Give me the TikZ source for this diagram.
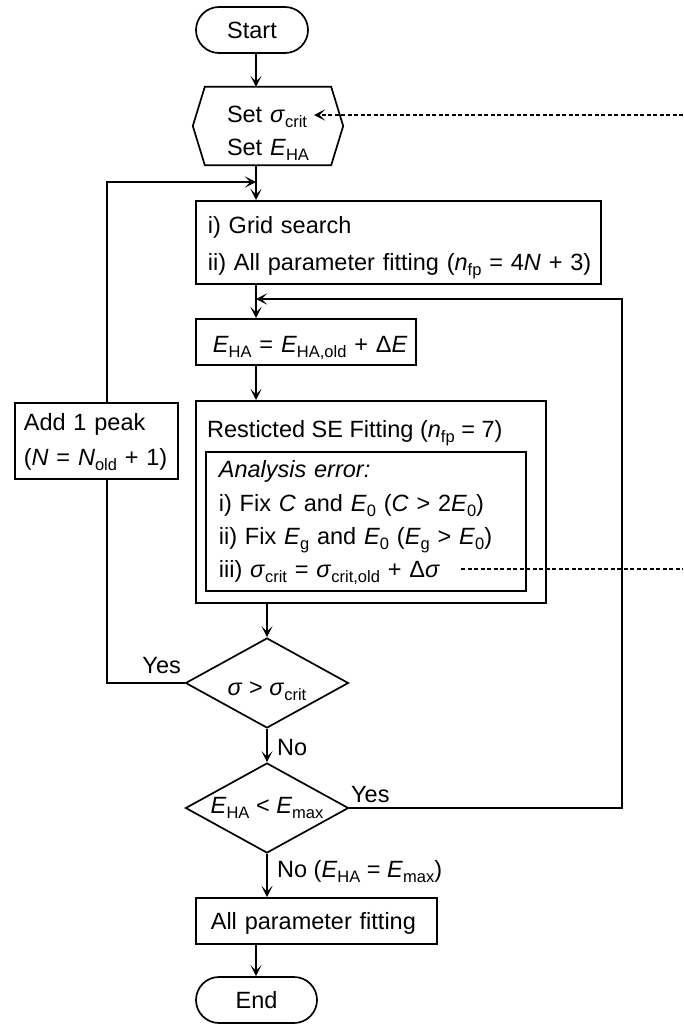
\documentclass[tikz,border=0pt]{standalone}
\usepackage{fontspec}
\setmainfont{Liberation Sans}
\usetikzlibrary{arrows.meta,calc,shapes.geometric}
\newcommand{\sbs}[1]{\raisebox{-5pt}{\fontsize{16.5}{16.5}\selectfont #1}}
\newcommand{\vi}[1]{\textit{#1}}
\newcommand{\lne}[1]{\mbox{#1}}
\newcommand{\topst}[1]{\rule{0pt}{#1}}
\newcommand{\botst}{\rule[-9pt]{0pt}{9pt}}
\newcommand{\fs}[1]{\fontsize{23.5}{#1}\selectfont}
\begin{document}
\begin{tikzpicture}[x=1pt,y=-1pt,
  every node/.style={font=\fs{34}},
  ln/.style={line width=1.7pt},
  tip/.style={-{Stealth[length=11pt,width=11pt,inset=5.5pt]}},
  arr/.style={ln,tip},
  dsh/.style={line width=1.2pt,dash pattern=on 4pt off 2.5pt},
  box/.style={draw,ln,anchor=north west,inner ysep=0pt,align=left},
  term/.style={draw,ln,rounded corners=23pt,minimum height=46pt,inner sep=0pt},
  dia/.style={draw,ln,diamond,aspect=1.8,inner sep=0pt,minimum width=163pt,minimum height=90pt},
  lbl/.style={inner sep=0pt}]
\useasboundingbox (0,0) rectangle (683,1025);
\coordinate (ax1) at (256,0);
\coordinate (ax2) at (267,0);
\coordinate (lx) at (107,0);
\coordinate (rx) at (622,0);

% nodes
\node[term,minimum width=112pt] (start) at (252,30) {Start};
\node[align=left,inner xsep=34pt,inner ysep=0pt,text width=82pt,minimum height=78pt,font=\fs{33}] (set) at (268,126)
  {\lne{\topst{34pt}Set \vi{σ}\sbs{crit}}\\\lne{Set \vi{E}\sbs{HA}\botst}};
\draw[ln] (set.west) -- ([xshift=12pt]set.north west) -- ([xshift=-12pt]set.north east)
  -- (set.east) -- ([xshift=-12pt]set.south east) -- ([xshift=12pt]set.south west) -- cycle;
\node[box,inner xsep=12pt,text width=381pt,minimum height=83pt,font=\fs{36.5}] (grid) at (195,200)
  {\lne{\topst{28.5pt}i) Grid search}\\\lne{ii) All parameter fitting (\vi{n}\sbs{fp} = 4\vi{N} + 3)\botst}};
\node[box,inner xsep=17pt,text width=186pt,minimum height=46pt] (eha) at (195,318)
  {\lne{\topst{31pt}\vi{E}\sbs{HA} = \vi{E}\sbs{HA,old} + Δ\vi{E}\botst}};
\node[box,minimum width=350pt,minimum height=202pt] (restr) at (195,400) {};
\node[lbl,anchor=base west] (rtitle) at (207,437) {Resticted SE Fitting (\vi{n}\sbs{fp} = 7)};
\node[box,inner xsep=13pt,text width=294pt,minimum height=139pt,font=\fs{33.3}] (inner) at (205,451)
  {\lne{\topst{22pt}\vi{Analysis error:}}\\
   \lne{i) Fix \vi{C} and \vi{E}\sbs{0} (\vi{C} > 2\vi{E}\sbs{0})}\\
   \lne{ii) Fix \vi{E}\sbs{g} and \vi{E}\sbs{0} (\vi{E}\sbs{g} > \vi{E}\sbs{0})}\\
   \lne{iii) \vi{σ}\sbs{crit} = \vi{σ}\sbs{crit,old} + Δ\vi{σ}\botst}};
\node[box,inner xsep=9pt,text width=145pt,minimum height=76pt,font=\fs{35}] (peak) at (14,402)
  {\lne{\topst{24pt}Add 1 peak}\\\lne{(\vi{N} = \vi{N}\sbs{old} + 1)\botst}};
\node[dia] (d1) at (267,683) {\raisebox{-8pt}[\height][\depth]{\vi{σ} > \vi{σ}\sbs{crit}}};
\node[dia] (d2) at (267,808) {\vi{E}\sbs{HA} < \vi{E}\sbs{max}};
\node[box,inner xsep=15pt,text width=211pt,minimum height=46pt] (allp) at (195,897)
  {\lne{\topst{27pt}All parameter fitting\botst}};
\node[term,minimum width=121pt] (end) at (256.5,1000) {End};

% main flow
\draw[arr] (start.south -| ax1) -- (set.north -| ax1);
\draw[arr] (set.south -| ax1) -- (grid.north -| ax1);
\draw[arr] (grid.south -| ax1) -- (eha.north -| ax1);
\draw[arr] (eha.south -| ax1) -- (restr.north -| ax1);
\draw[arr] (restr.south -| ax2) -- (d1.north);
\draw[arr] (d1.south) -- (d2.north);
\draw[arr] (d2.south) -- (allp.north -| ax2);
\draw[arr] (allp.south -| ax1) -- (end.north -| ax1);

% left loop
\coordinate (mergeL) at (256,182);
\draw[ln] (d1.west) -- (d1.west -| lx) -- (peak.south -| lx);
\draw[arr] (peak.north -| lx) -- (mergeL -| lx) -- (mergeL);
% right loop
\coordinate (mergeR) at (256,299);
\draw[arr] (d2.east) -- (d2.east -| rx) -- (mergeR -| rx) -- (mergeR);

% labels
\node[lbl,anchor=base east] (yes1) at (181,673) {Yes};
\node[lbl,anchor=base west] (yes2) at (351,802) {Yes};
\node[lbl,anchor=base west] (no1) at (277,755) {No};
\node[lbl,anchor=base west] (no2) at (277,877) {No (\vi{E}\sbs{HA} = \vi{E}\sbs{max})};

% dashed
\coordinate (dA) at (683,115);
\coordinate (dAt) at (314,115);
\draw[dsh,tip] (dA) -- (dAt);
\coordinate (dB0) at (461,569);
\coordinate (dB1) at (683,569);
\draw[dsh] (dB0) -- (dB1);
\end{tikzpicture}
\end{document}
